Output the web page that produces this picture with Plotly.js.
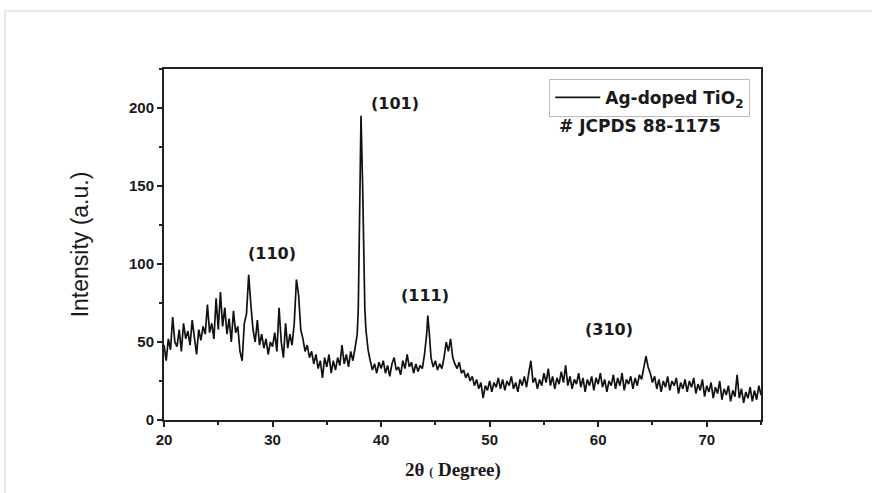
<!DOCTYPE html>
<html><head><meta charset="utf-8">
<script src="https://cdn.plot.ly/plotly-3.0.1.min.js"></script>
<style>
html,body{margin:0;padding:0;background:#fff;}
#wrap{position:relative;width:872px;height:493px;overflow:hidden;}
#frame{position:absolute;left:4px;top:10px;width:880px;height:500px;border-left:2px solid #e8ecd9;border-top:2px solid #e8ecd9;box-sizing:border-box;pointer-events:none;}
#chart{position:absolute;left:0;top:0;width:872px;height:493px;}
</style></head>
<body><div id="wrap"><div id="frame"></div><div id="chart"></div></div>
<script>
const twoTheta = [20.0,20.2,20.4,20.6,20.8,21.0,21.2,21.4,21.6,21.8,22.0,22.2,22.4,22.6,22.8,23.0,23.2,23.4,23.6,23.8,24.0,24.2,24.4,24.6,24.8,25.0,25.2,25.4,25.6,25.8,26.0,26.2,26.4,26.6,26.8,27.0,27.2,27.4,27.6,27.8,28.0,28.2,28.4,28.6,28.8,29.0,29.2,29.4,29.6,29.8,30.0,30.2,30.4,30.6,30.8,31.0,31.2,31.4,31.6,31.8,32.0,32.2,32.4,32.6,32.8,33.0,33.2,33.4,33.6,33.8,34.0,34.2,34.4,34.6,34.8,35.0,35.2,35.4,35.6,35.8,36.0,36.2,36.4,36.6,36.8,37.0,37.2,37.4,37.6,37.8,37.9,38.0,38.15,38.3,38.4,38.5,38.6,38.8,39.0,39.2,39.4,39.6,39.8,40.0,40.2,40.4,40.6,40.8,41.0,41.2,41.4,41.6,41.8,42.0,42.2,42.4,42.6,42.8,43.0,43.2,43.4,43.6,43.8,44.0,44.2,44.3,44.45,44.6,44.8,45.0,45.2,45.4,45.6,45.8,46.0,46.2,46.4,46.6,46.8,47.0,47.2,47.4,47.6,47.8,48.0,48.2,48.4,48.6,48.8,49.0,49.2,49.4,49.6,49.8,50.0,50.2,50.4,50.6,50.8,51.0,51.2,51.4,51.6,51.8,52.0,52.2,52.4,52.6,52.8,53.0,53.2,53.4,53.6,53.8,54.0,54.2,54.4,54.6,54.8,55.0,55.2,55.4,55.6,55.8,56.0,56.2,56.4,56.6,56.8,57.0,57.2,57.4,57.6,57.8,58.0,58.2,58.4,58.6,58.8,59.0,59.2,59.4,59.6,59.8,60.0,60.2,60.4,60.6,60.8,61.0,61.2,61.4,61.6,61.8,62.0,62.2,62.4,62.6,62.8,63.0,63.2,63.4,63.6,63.8,64.0,64.2,64.4,64.6,64.8,65.0,65.2,65.4,65.6,65.8,66.0,66.2,66.4,66.6,66.8,67.0,67.2,67.4,67.6,67.8,68.0,68.2,68.4,68.6,68.8,69.0,69.2,69.4,69.6,69.8,70.0,70.2,70.4,70.6,70.8,71.0,71.2,71.4,71.6,71.8,72.0,72.2,72.4,72.6,72.8,73.0,73.2,73.4,73.6,73.8,74.0,74.2,74.4,74.6,74.8,75.0];
const intensity = [48,38,52,45,66,50,47,58,44,62,52,57,48,64,53,42,58,51,60,55,74,56,62,52,78,58,82,60,72,55,65,50,70,56,60,44,38,62,68,93,74,58,50,64,48,55,46,52,42,50,47,56,44,72,50,40,62,46,55,48,62,90,80,58,52,44,48,40,44,36,42,33,38,27,40,34,42,30,38,32,40,35,48,36,42,34,44,38,46,55,72,120,195,150,95,72,58,45,38,32,36,30,37,33,38,30,35,28,36,40,32,34,29,38,33,42,34,37,30,36,31,35,33,42,55,67,55,40,34,38,32,36,33,40,50,44,52,40,36,33,37,30,32,27,30,25,28,22,26,20,24,14,22,19,25,18,24,21,27,20,26,19,25,22,28,20,24,18,26,22,28,21,30,38,24,27,20,26,22,30,24,33,22,28,20,27,23,31,24,35,22,28,20,26,23,30,21,27,18,26,22,28,19,27,23,30,21,26,18,25,22,29,20,27,22,30,19,26,23,28,20,27,22,29,26,33,41,34,30,24,28,20,26,18,25,21,28,19,25,22,27,17,24,20,26,18,25,21,27,17,23,19,26,15,22,18,24,14,21,17,25,13,20,16,22,12,19,15,29,14,20,11,18,14,21,12,19,13,22,16];
const seriesName = '<b>Ag-doped TiO<sub>2</sub></b>';
const xTicks = [20,30,40,50,60,70];
const yTicks = [0,50,100,150,200];
const peakLabels = ['(110)','(101)','(111)','(310)'];
const peakX = [29.95,41.3,44.0,61.0];
const peakY = [107,203,80,58];
const refText = '# JCPDS 88-1175';
const xTitle = '<b>2θ <span style="font-size:12px">(</span> Degree)</b>';
const yTitle = 'Intensity (a.u.)';

const sans = '"Liberation Sans", Arial, sans-serif';
const wide = '"DejaVu Sans", Verdana, sans-serif';
const annotations = peakLabels.map((t,i)=>({x:peakX[i], y:peakY[i], xref:'x', yref:'y', text:'<b>'+t+'</b>', showarrow:false, font:{family:wide, size:16, color:'#1a1a1a'}}));
annotations.push({x:63.85, y:188.5, xref:'x', yref:'y', text:'<b>'+refText+'</b>', showarrow:false, font:{family:wide, size:17, color:'#1a1a1a'}});
annotations.push({x:0.484, y:-0.142, xref:'paper', yref:'paper', xanchor:'center', yanchor:'middle', text:xTitle, showarrow:false, font:{family:'"Liberation Serif", "Times New Roman", serif', size:19, color:'#1a1a1a'}});

Plotly.newPlot('chart', [{
  x: twoTheta, y: intensity, type:'scatter', mode:'lines', name: seriesName,
  line:{color:'#111', width:1.7}
}], {
  width:872, height:493,
  margin:{l:164, r:111, t:69, b:73},
  paper_bgcolor:'rgba(0,0,0,0)', plot_bgcolor:'#fff',
  showlegend:true,
  legend:{x:0.982, y:0.972, xanchor:'right', yanchor:'top', bgcolor:'#fff', bordercolor:'#bbb', borderwidth:1,
    font:{family:wide, size:17, color:'#1a1a1a'}, itemwidth:45, tracegroupgap:0},
  xaxis:{range:[20,75], tickvals:xTicks, ticks:'outside', ticklen:5, tickwidth:2, tickcolor:'#222',
    showline:true, linecolor:'#222', linewidth:2, mirror:true, showgrid:false, zeroline:false,
    minor:{dtick:5, tick0:0, ticks:'outside', ticklen:3, tickwidth:2, tickcolor:'#222', showgrid:false},
    tickfont:{family:sans, size:15, color:'#1a1a1a', weight:'bold'}},
  yaxis:{range:[0,225], tickvals:yTicks, ticks:'outside', ticklen:5, tickwidth:2, tickcolor:'#222',
    showline:true, linecolor:'#222', linewidth:2, mirror:true, showgrid:false, zeroline:false,
    minor:{dtick:25, tick0:0, ticks:'outside', ticklen:3, tickwidth:2, tickcolor:'#222', showgrid:false},
    tickfont:{family:sans, size:15, color:'#1a1a1a', weight:'bold'},
    title:{text:yTitle, standoff:34, font:{family:sans, size:23, color:'#1a1a1a'}}},
  annotations: annotations
}, {displayModeBar:false, staticPlot:true});
</script></body></html>
